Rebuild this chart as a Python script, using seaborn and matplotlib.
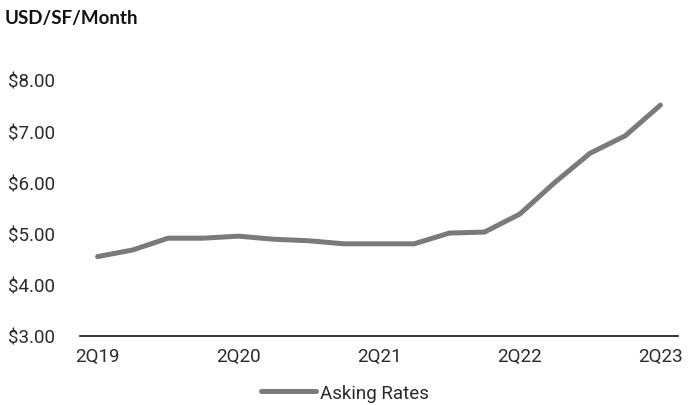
import matplotlib
matplotlib.use("Agg")
import matplotlib.pyplot as plt
import seaborn as sns
import pandas as pd

quarters = ["2Q19", "3Q19", "4Q19", "1Q20", "2Q20", "3Q20", "4Q20", "1Q21", "2Q21",
            "3Q21", "4Q21", "1Q22", "2Q22", "3Q22", "4Q22", "1Q23", "2Q23"]
asking_rates = [4.55, 4.68, 4.91, 4.91, 4.95, 4.89, 4.86, 4.80, 4.80,
                4.80, 5.01, 5.03, 5.38, 6.00, 6.57, 6.91, 7.51]
tick_labels = ["2Q19", "2Q20", "2Q21", "2Q22", "2Q23"]
y_ticks = [3, 4, 5, 6, 7, 8]

sns.set_theme(style="white")
plt.rcParams['font.family'] = ['Roboto', 'DejaVu Sans']

df = pd.DataFrame({"pos": range(len(quarters)), "Quarter": quarters,
                   "Asking Rates": asking_rates})

fig = plt.figure(figsize=(6.99, 4.06), dpi=100)
ax = fig.add_axes([0.1144, 0.170, 0.970 - 0.1144, 0.8005 - 0.170])

sns.lineplot(data=df, x="pos", y="Asking Rates", ax=ax, color="#7a7a7a",
             linewidth=3.6, label="Asking Rates")

ax.set_xlim(-0.5, len(quarters) - 0.5)
ax.set_ylim(3, 8)
ax.set_yticks(y_ticks)
ax.set_yticklabels([f"${v:.2f}" for v in y_ticks], fontsize=13.5, color="#2a2a2a")
ax.set_xticks([quarters.index(t) for t in tick_labels])
ax.set_xticklabels(tick_labels, fontsize=13.5, color="#2a2a2a")
ax.tick_params(axis="y", length=0, pad=18)
ax.tick_params(axis="x", length=0, pad=8)
ax.set_xlabel("")
ax.set_ylabel("")
for side in ["top", "right", "left"]:
    ax.spines[side].set_visible(False)
ax.spines["bottom"].set_color("#111111")
ax.spines["bottom"].set_linewidth(1.2)

leg = ax.legend(loc="center", bbox_to_anchor=(0.443, -0.222), frameon=False,
                fontsize=13.5, handlelength=2.9, handletextpad=0.2)
for t in leg.get_texts():
    t.set_color("#2a2a2a")

fig.text(0.007, 0.955, "USD/SF/Month", fontsize=13.5, fontweight="bold",
         family=["Lato", "DejaVu Sans"], color="#111111", va="center", ha="left")

fig.savefig("out.png", dpi=100)
